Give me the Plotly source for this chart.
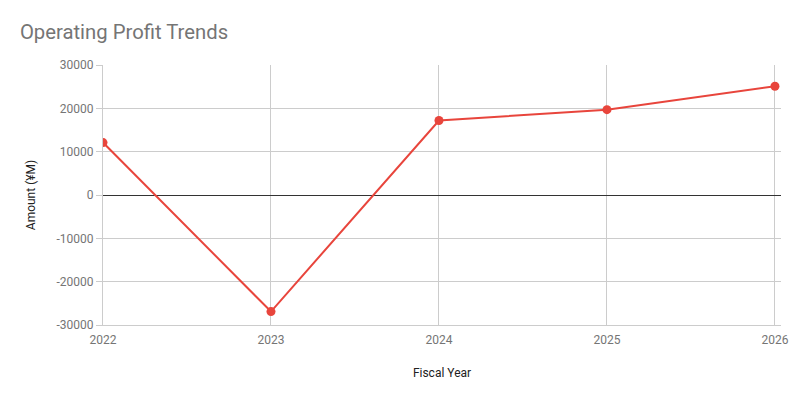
import plotly.graph_objects as go

years = [2022, 2023, 2024, 2025, 2026]
profit = [12100, -26900, 17200, 19700, 25100]
y_ticks = [-30000, -20000, -10000, 0, 10000, 20000, 30000]

red = '#e8453c'
grey_text = '#757575'
grid = '#cccccc'

fig = go.Figure()
fig.add_trace(go.Scatter(
    x=years,
    y=profit,
    mode='lines+markers',
    line=dict(color=red, width=2),
    marker=dict(color=red, size=9),
    showlegend=False,
    hoverinfo='x+y'
))

# the page body has an 8px margin, so the figure is 792x392 and shifted accordingly
fig.update_layout(
    width=792, height=392,
    paper_bgcolor='white',
    plot_bgcolor='white',
    font=dict(family='Roboto', size=12, color=grey_text),
    title=dict(text='Operating Profit Trends', x=0.015, xanchor='left',
               y=0.939, yanchor='middle',
               font=dict(family='Roboto', size=20.3, color=grey_text)),
    margin=dict(l=95, r=19, t=57, b=75),
)

fig.update_xaxes(
    range=[2022, 2026.036],
    tickvals=years,
    ticktext=[str(y) for y in years],
    showgrid=True, gridcolor=grid, gridwidth=1,
    zeroline=False,
    showline=True, linecolor=grid, linewidth=1,
    ticks='', ticklabelstandoff=4,
    tickfont=dict(size=12, color=grey_text),
    title=dict(text='Fiscal Year', font=dict(size=12, color='#222222'), standoff=22),
)

fig.update_yaxes(
    range=[-30000, 30000],
    tickvals=y_ticks,
    ticktext=[str(v) for v in y_ticks],  # plain hyphen minus, as in the original
    showgrid=True, gridcolor=grid, gridwidth=1,
    zeroline=True, zerolinecolor='#333333', zerolinewidth=1,
    showline=True, linecolor=grid, linewidth=1,
    ticks='outside', ticklen=6, tickcolor=grid,
    ticklabelstandoff=0,
    tickfont=dict(size=12, color=grey_text),
    title=dict(text='Amount (¥M)', font=dict(size=12, color='#222222'), standoff=18),
)

fig.write_html("out.html")
